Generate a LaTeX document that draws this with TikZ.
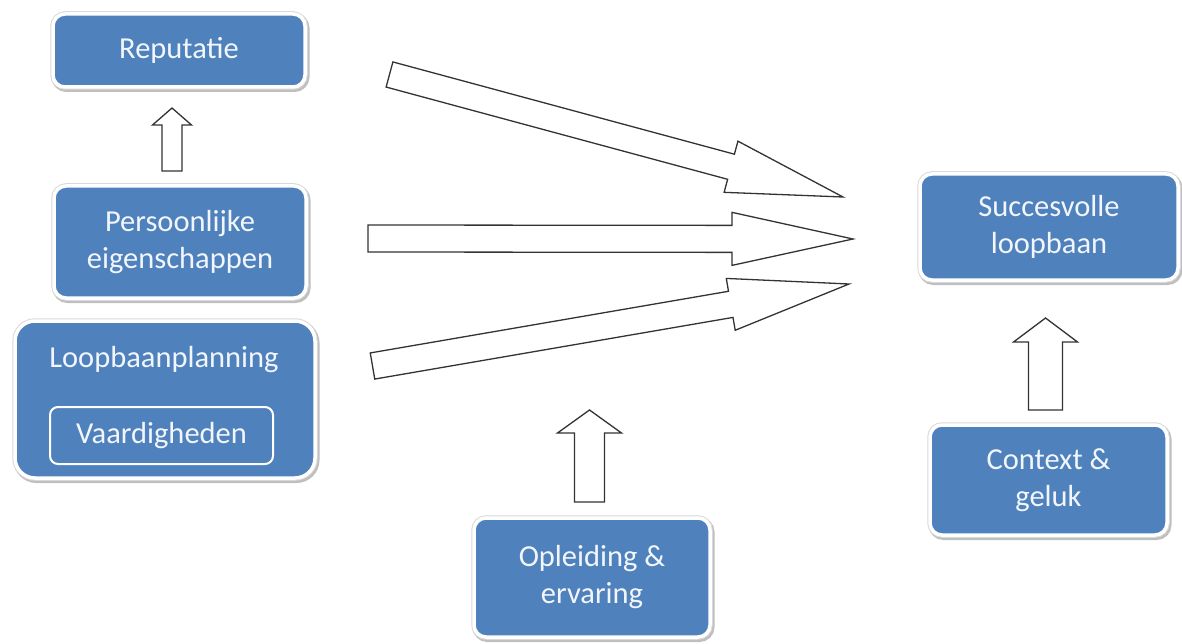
\documentclass[tikz,border=0pt]{standalone}
\usepackage{fontspec}
\setmainfont{Carlito}
\usetikzlibrary{calc}
\definecolor{boxblue}{HTML}{4F81BD}
\definecolor{txtcol}{HTML}{F2F6FB}
\definecolor{arrline}{HTML}{333333}
\tikzset{
  box/.style={rectangle, rounded corners=12pt, fill=boxblue, draw=white, line width=3.5pt,
    text=txtcol, align=center, inner sep=0pt,
    font=\fontsize{30.5}{37}\selectfont,
    preaction={draw=black!25, line width=6pt, transform canvas={xshift=1.5pt,yshift=-2pt}},
    preaction={draw=black!15, line width=5.5pt}},
  innerbox/.style={rectangle, rounded corners=8pt, fill=boxblue, draw=white, line width=2pt,
    text=txtcol, align=center, inner sep=0pt, font=\fontsize{30.5}{37}\selectfont},
  plaintext/.style={text=txtcol, inner sep=0pt, font=\fontsize{30.5}{37}\selectfont},
  blockarrow/.style={draw=arrline, fill=white, line width=1.3pt, line join=miter}
}
% #1 tail, #2 tip, #3 half shaft width, #4 half head width, #5 head length
\newcommand\blkarrow[5]{%
  \coordinate (hb) at ($(#2)!#5!(#1)$);
  \draw[blockarrow] ($(#1)!#3!90:(#2)$) -- ($(hb)!#3!-90:(#1)$) -- ($(hb)!#4!-90:(#1)$)
    -- (#2) -- ($(hb)!#4!90:(#1)$) -- ($(hb)!#3!90:(#1)$) -- ($(#1)!#3!-90:(#2)$) -- cycle;}
\begin{document}
\begin{tikzpicture}[x=1pt,y=-1pt]
\useasboundingbox (0,0) rectangle (1182,644);
% boxes
\node[box, minimum width=252pt, minimum height=73pt] (rep) at (179,50.5) {Reputatie};
\node[box, minimum width=252pt, minimum height=112pt] (pers) at (180,242) {Persoonlijke\\eigenschappen};
\node[box, rounded corners=20pt, minimum width=300pt, minimum height=157pt] (plan) at (165,399.5) {};
\node[plaintext] (plantxt) at (164,360) {Loopbaanplanning};
\node[innerbox, minimum width=223pt, minimum height=57pt] (vaard) at (161.5,435.5) {Vaardigheden};
\node[box, minimum width=236pt, minimum height=119pt] (opl) at (592,577.5) {Opleiding \&\\ervaring};
\node[box, minimum width=258pt, minimum height=106pt] (succ) at (1049,227) {Succesvolle\\loopbaan};
\node[box, minimum width=237pt, minimum height=110pt] (ctx) at (1048.5,480) {Context \&\\geluk};
% arrow end points
\coordinate (t1) at (389.5,74.5);  \coordinate (h1) at (843,197);
\coordinate (t2) at (368,238.5);   \coordinate (h2) at (853,239);
\coordinate (t3) at (372.5,366);   \coordinate (h3) at (849,284);
\coordinate (t4) at (172,171);     \coordinate (h4) at (172,108);
\coordinate (t5) at (589.5,502);   \coordinate (h5) at (589.5,410);
\coordinate (t6) at (1045.5,410);  \coordinate (h6) at (1045.5,318);
\blkarrow{t1}{h1}{13pt}{26.5pt}{116pt}
\blkarrow{t2}{h2}{13.5pt}{26.5pt}{121pt}
\blkarrow{t3}{h3}{13.25pt}{26.3pt}{120pt}
\blkarrow{t4}{h4}{10pt}{19.5pt}{17pt}
\blkarrow{t5}{h5}{15pt}{32pt}{23pt}
\blkarrow{t6}{h6}{17pt}{32pt}{24pt}
\end{tikzpicture}
\end{document}
